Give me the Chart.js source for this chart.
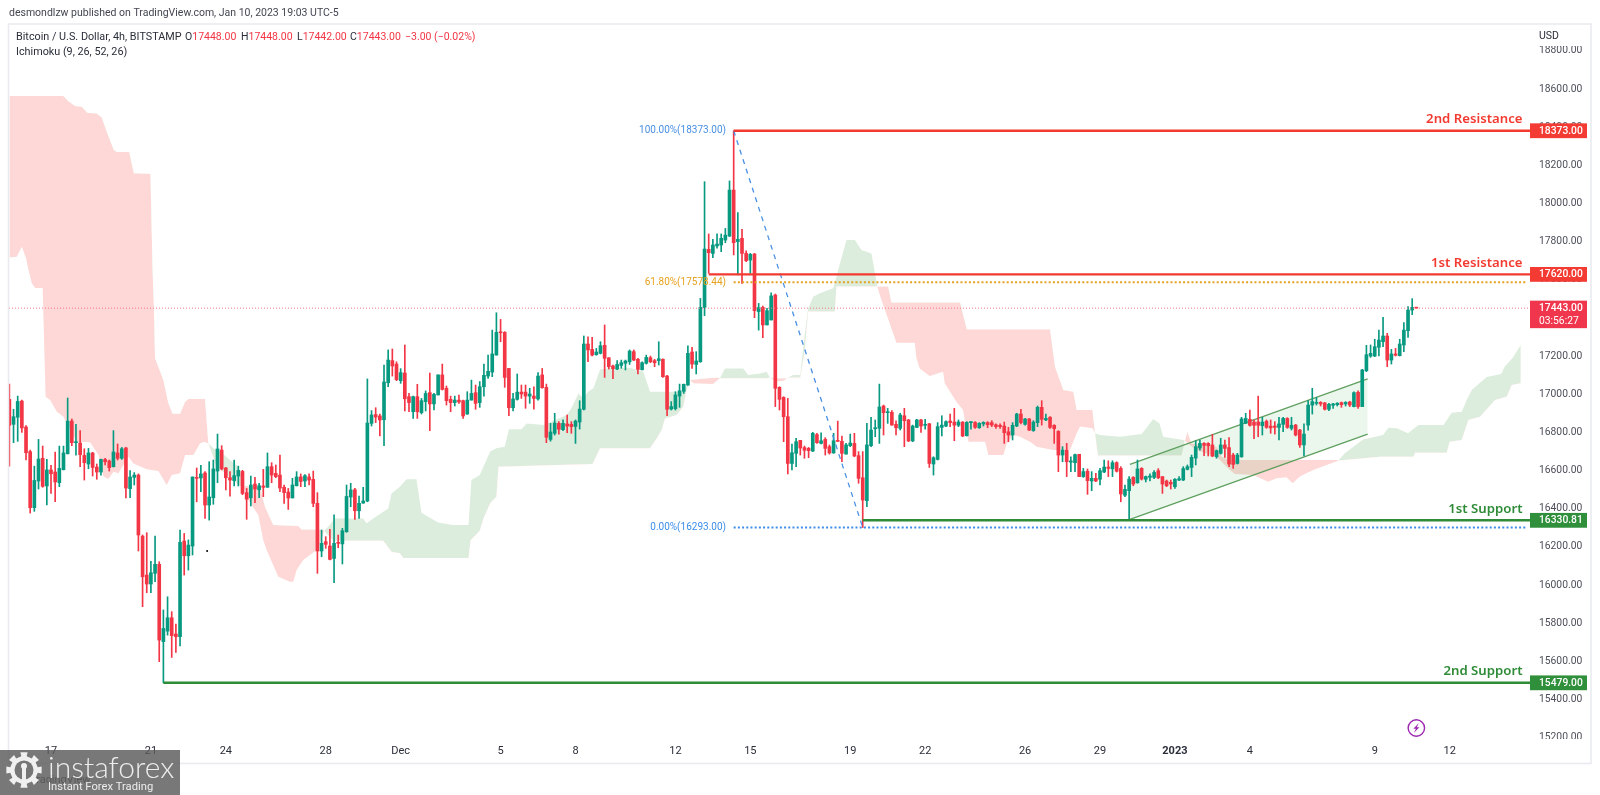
<!DOCTYPE html>
<html><head><meta charset="utf-8">
<style>html,body{margin:0;padding:0;background:#fff}canvas{display:block}</style>
<script src="https://cdn.jsdelivr.net/npm/chart.js@4/dist/chart.umd.min.js"></script>
</head><body><canvas id="c" width="1600" height="795"></canvas>
<script>
const opens=[16965,16834,16871,16956,16820,16691,16397,16537,16656,16511,
16595,16584,16528,16596,16680,16851,16738,16736,16671,16626,
16684,16610,16584,16650,16642,16612,16684,16656,16710,16497,
16556,16568,16248,16044,15997,16053,16100,15695,15750,15820,
15735,15721,16222,16145,16196,16556,16553,16579,16411,16449,
16589,16699,16605,16554,16539,16563,16587,16476,16449,16521,
16491,16511,16504,16612,16577,16568,16504,16479,16448,16512,
16558,16537,16558,16546,16420,16170,16219,16196,16131,16214,
16207,16271,16453,16491,16381,16421,16432,16839,16885,16878,
16858,17052,17168,17150,17063,17103,16979,16900,16979,16895,
16953,17000,16941,16988,17093,17023,16965,16948,16961,16958,
16888,16961,17000,16948,17031,17087,17108,17197,17318,17316,
17127,16921,16965,17003,17003,16982,16982,16967,17093,17028,
16755,16787,16839,16806,16836,16834,16823,16846,16913,17255,
17227,17199,17206,17248,17183,17140,17124,17143,17154,17162,
17215,17175,17120,17154,17183,17168,17168,17175,17087,16914,
16916,16982,17007,17040,17213,17148,17162,17447,17751,17730,
17769,17774,17800,17821,18062,17792,17809,17730,17695,17727,
17425,17447,17355,17381,17512,17028,16975,16874,16629,16682,
16750,16712,16708,16694,16780,16734,16755,16717,16684,16748,
16745,16678,16722,16734,16670,16554,16434,16722,16811,16813,
16930,16895,16897,16834,16813,16879,16857,16747,16818,16857,
16829,16837,16626,16650,16818,16825,16851,16846,16829,16846,
16774,16843,16844,16816,16836,16843,16843,16832,16829,16825,
16795,16778,16825,16888,16834,16862,16801,16843,16923,16857,
16871,16829,16797,16673,16698,16636,16633,16677,16560,16588,
16537,16551,16546,16584,16610,16601,16633,16603,16462,16486,
16556,16528,16603,16546,16556,16556,16591,16560,16537,16530,
16507,16542,16542,16598,16608,16657,16710,16734,16734,16726,
16664,16682,16726,16712,16673,16629,16664,16839,16860,16846,
16846,16827,16850,16825,16825,16818,16834,16865,16813,16830,
16804,16726,16830,16935,16944,16949,16946,16913,16934,16937,
16948,16941,16951,16927,17002,16927,17115,17192,17192,17238,
17267,17297,17171,17203,17194,17250,17325,17433,17448];
const highs=[17045,16913,16982,16961,16827,16699,16615,16755,16720,16650,
16619,16689,16720,16720,16972,16862,16834,16801,16706,16708,
16687,16626,16652,16656,16647,16801,16731,16713,16713,16591,
16581,16574,16254,16266,16116,16248,16114,15861,15930,15852,
15787,16280,16262,16228,16558,16605,16619,16586,16638,16647,
16783,16722,16608,16586,16647,16615,16593,16498,16563,16556,
16525,16598,16684,16633,16621,16673,16516,16498,16551,16586,
16574,16570,16574,16589,16476,16280,16245,16283,16359,16254,
16289,16516,16525,16498,16458,16504,17072,16906,16921,16888,
17145,17224,17229,17162,17126,17250,16996,16982,17044,16970,
17009,17103,16996,17093,17150,17035,16982,16982,16988,16961,
17005,17066,17040,17058,17150,17197,17328,17419,17384,17320,
17127,16996,17098,17040,17040,17023,17031,17105,17127,17045,
16839,16892,16848,16857,16883,16848,16857,16958,17297,17293,
17290,17232,17267,17355,17183,17145,17168,17171,17171,17224,
17224,17180,17162,17197,17192,17175,17267,17178,17091,16953,
17005,17045,17045,17245,17238,17215,17494,18106,17832,17804,
17832,17832,17861,18110,18373,17944,17856,17744,17730,17730,
17468,17454,17442,17524,17517,17031,16979,16970,16731,16760,
16750,16720,16713,16792,16787,16790,16764,16726,16787,16851,
16773,16734,16783,16787,16691,16691,16839,16871,16857,17045,
16935,16918,16906,16853,16892,16918,16860,16830,16860,16860,
16860,16839,16664,16843,16879,16853,16888,16918,16857,16848,
16848,16848,16848,16843,16848,16848,16853,16836,16836,16846,
16818,16843,16892,16913,16865,16865,16853,16930,16958,16888,
16874,16832,16801,16717,16734,16664,16678,16677,16603,16600,
16586,16577,16603,16647,16643,16643,16638,16612,16516,16560,
16560,16647,16607,16563,16574,16591,16602,16560,16542,16542,
16549,16560,16612,16621,16673,16748,16752,16738,16738,16781,
16699,16761,16752,16764,16682,16682,16871,16892,16909,16857,
16982,16871,16857,16857,16848,16871,16871,16869,16871,16834,
16808,16836,16958,17023,16975,16953,16949,16944,16944,16948,
16951,16953,16955,17005,17009,17122,17248,17250,17280,17328,
17395,17311,17227,17232,17280,17367,17451,17493,17448];
const lows=[16615,16738,16745,16792,16647,16369,16378,16495,16504,16411,
16472,16428,16507,16595,16678,16722,16673,16612,16542,16601,
16563,16546,16568,16621,16589,16610,16647,16650,16448,16449,
16516,16170,15878,15951,15951,16009,15590,15479,15729,15612,
15639,15672,16044,16070,16149,16428,16481,16341,16332,16415,
16528,16595,16490,16458,16511,16511,16465,16336,16406,16423,
16449,16455,16504,16528,16554,16481,16420,16388,16448,16511,
16507,16507,16516,16402,16053,16140,16184,16123,16004,16187,
16102,16268,16402,16336,16341,16420,16428,16825,16843,16773,
16722,17031,17087,17063,17049,16904,16900,16865,16865,16888,
16904,16801,16909,16988,17014,16935,16900,16930,16944,16865,
16886,16961,16913,16923,16982,17075,17084,17197,17267,17028,
16879,16904,16961,16970,16918,16944,16914,16961,17023,16738,
16746,16778,16783,16801,16790,16787,16734,16809,16909,17162,
17192,17196,17203,17080,17124,17073,17120,17128,17119,17148,
17168,17098,17119,17150,17157,17136,17145,17080,16879,16909,
16909,16923,16996,17038,17127,17098,17159,17404,17626,17708,
17757,17739,17786,17818,17722,17617,17573,17687,17626,17393,
17328,17288,17355,17381,16927,16909,16743,16574,16595,16612,
16673,16656,16659,16691,16734,16731,16673,16678,16682,16743,
16638,16677,16717,16664,16525,16293,16402,16717,16769,16734,
16778,16839,16830,16778,16804,16717,16743,16743,16816,16792,
16808,16608,16568,16647,16773,16822,16822,16748,16822,16769,
16773,16808,16813,16813,16825,16816,16822,16813,16813,16734,
16743,16752,16822,16836,16830,16801,16797,16822,16830,16853,
16813,16734,16586,16638,16560,16586,16586,16560,16556,16467,
16486,16533,16516,16581,16560,16560,16584,16428,16455,16331,
16512,16525,16542,16532,16537,16549,16549,16472,16507,16495,
16498,16539,16539,16595,16560,16621,16699,16670,16668,16664,
16656,16678,16661,16612,16603,16626,16661,16839,16825,16759,
16769,16778,16813,16787,16783,16752,16795,16813,16804,16773,
16713,16668,16804,16888,16935,16930,16909,16906,16918,16930,
16923,16930,16927,16925,16918,16927,17110,17185,17189,17192,
17241,17136,17150,17192,17192,17215,17290,17409,17442];
const closes=[16829,16874,16954,16815,16685,16397,16540,16652,16509,16595,
16575,16532,16603,16684,16851,16738,16741,16675,16633,16684,
16608,16584,16650,16638,16607,16689,16656,16706,16500,16558,
16568,16254,16035,15997,16056,16100,15703,15764,15820,15726,
15721,16215,16145,16201,16558,16551,16574,16411,16453,16600,
16705,16600,16554,16542,16565,16593,16472,16442,16516,16495,
16512,16504,16612,16568,16560,16500,16476,16448,16516,16558,
16535,16565,16542,16420,16170,16210,16205,16126,16210,16210,
16276,16456,16490,16381,16420,16432,16841,16883,16872,16857,
17056,17171,17140,17068,17105,16968,16948,16979,16900,16958,
16996,16941,16991,17093,17017,16958,16948,16961,16951,16878,
16961,16996,16944,17031,17091,17112,17203,17316,17314,17080,
16921,16967,17003,16993,16982,16993,16970,17087,17026,16766,
16794,16841,16808,16839,16825,16822,16851,16914,17255,17224,
17197,17213,17246,17180,17136,17126,17148,17157,17166,17218,
17171,17122,17157,17185,17162,17157,17178,17084,16913,16927,
16988,17010,17044,17206,17150,17166,17447,17753,17734,17774,
17779,17809,17826,18062,17786,17804,17730,17692,17725,17430,
17446,17355,17430,17507,17023,16965,16874,16629,16685,16743,
16710,16698,16696,16787,16738,16748,16708,16684,16748,16745,
16682,16726,16736,16668,16551,16437,16726,16804,16816,16925,
16895,16900,16830,16816,16883,16853,16747,16825,16857,16825,
16834,16629,16659,16822,16830,16848,16843,16830,16846,16773,
16844,16846,16818,16839,16844,16832,16830,16822,16822,16790,
16778,16829,16888,16843,16862,16804,16846,16923,16860,16865,
16818,16811,16673,16699,16638,16642,16675,16560,16586,16539,
16551,16537,16591,16610,16603,16633,16588,16469,16493,16547,
16521,16600,16547,16560,16563,16582,16554,16521,16512,16521,
16546,16549,16602,16612,16661,16717,16734,16724,16722,16668,
16696,16726,16708,16626,16624,16673,16862,16865,16829,16829,
16829,16846,16818,16815,16818,16836,16865,16818,16829,16778,
16726,16783,16935,16953,16949,16941,16913,16939,16941,16944,
16937,16949,16935,17000,16927,17119,17199,17206,17241,17276,
17297,17171,17203,17196,17255,17328,17433,17447,17443];

// Ichimoku spans: bar number / price pairs
const spanABars=[0,1.75,3,4,4.6,5.4,6.2,8,8.7,9.8,11.4,13,14.6,16.2,19.4,21.4,22.6,23.8,25,26.2,28.6,29.8,33,35.8,37.8,39,41,42.2,44.2,45.8,46.8,47.8,
49,51,53,55,56.4,57.4,59.8,61,61.8,64.6,67.4,68.2,69,70.6,73.8,74.6,75.6,
76.6,78.2,85,85.8,87.4,91,91.8,93.8,95.4,97.8,99,100.6,103,106.6,110.3,111,113,115.5,117,119,120,123,124.3,128.3,133.9,135,136.7,137.9,139,140.3,141.9,143.5,149,152.3,153.9,161.9,163.5,
164.3,169,170.7,171.9,176.3,177.5,180.3,181.9,182.7,184.3,186,187.1,188.3,190,191,191.9,193.1,194.7,197.9,198.7,199.1,201.1,203.1,204.7,207.1,208.5,
209.1,213.1,217.5,217.9,218.7,221.1,224.3,224.7,227.5,229.1,230.4,234.4,235.2,238.8,239.6,241.2,242.8,245.2,246.8,250.8,254.8,256.4,257.2,260.2,260.8,
262,266.8,272,274.8,276.3,277.2,282,282.4,283.6,285.2,290,293.2,294.4,298.8,302.4,304.4,306.8,308.3,310,313.2,319.2,
320.8,322.4,325.2,330,331.3,333.3,336,338.5,344.5,346.5,348.9,350.1,351.3,354.9,358.4,359.2,361.1,363.1];
const spanA=[17708,17713,17765,17704,17643,17573,17549,17549,16979,16961,16900,16874,16804,16743,16740,16673,16560,16547,16586,16577,16664,16629,16598,16589,16516,16568,16577,16673,16673,16734,16743,16734,
16708,16685,16647,16612,16510,16437,16359,16227,16175,16035,16009,16009,16070,16123,16175,16210,16276,
16297,16341,16341,16315,16341,16393,16472,16507,16546,16546,16371,16350,16320,16306,16306,16542,16568,16691,16708,16717,16808,16808,16839,16830,16883,16918,16996,16970,17005,17023,17122,17127,17131,17110,17005,17005,17066,
17049,17045,17075,17127,17127,17093,17101,17110,17080,17058,17063,17080,17093,17093,17293,17442,17503,17521,17547,17608,17643,17800,17800,17748,17730,17556,
17512,17262,17262,17180,17127,17087,17110,17049,16953,16909,16743,16743,16673,16673,16734,16778,16769,16743,16717,16699,16699,16787,16822,16813,16787,
16778,16769,16783,16862,16839,16769,16752,16748,16726,16699,16664,16594,16574,16568,16533,16551,16556,16525,16560,16594,16643,
16682,16708,16755,16778,16816,16813,16787,16830,16830,16895,16900,16961,17014,17082,17098,17136,17182,17250];
const spanBBars=[0,12.96,14.2,15.8,17.4,18.7,21,22.2,23.4,25.1,25.8,28.8,29.9,33.9,34.4,34.7,35,37,38.2,39.2,41,42.2,43,47,47.8,
49.8,55.4,56.4,56.6,60.2,61.4,63.4,69.4,70.2,74.6,75.6,
77.8,89.8,90.6,91.8,93.8,94.6,110.3,110.8,113,113.9,115.5,117,117.5,140.1,141.9,153.9,155.5,156.7,157.5,160.3,161.9,162.7,163.5,
167.5,170.3,170.7,181.9,182.7,183.9,186.7,187.1,190,191,191.9,198.3,198.7,208.5,
211.1,211.9,228.4,230,250,251.2,253.2,255.6,256.4,260.2,260.8,261.5,281.6,282.4,
283,284,290,291.2,293.2,319.2,319.6,329.3,337.3,337.7,345.3,346,348.9,350.5,353.3,356.9,359.7,360.9,363.1];
const spanB=[18555,18555,18527,18503,18499,18468,18464,18443,18368,18272,18262,18262,18150,18148,17643,17468,17180,17066,16944,16890,16890,16953,16967,16967,16734,
16612,16511,16510,16511,16507,16402,16306,16301,16283,16283,16276,
16224,16224,16201,16166,16158,16133,16133,16227,16276,16341,16420,16455,16612,16626,16708,16708,16760,16804,16865,16883,16926,17014,17066,
17075,17080,17075,17075,17080,17075,17075,17078,17080,17206,17425,17425,17556,17556,
17556,17473,17473,17332,17332,17136,17014,17005,16909,16909,16787,16670,16670,16748,
16795,16734,16717,16664,16647,16647,16645,16664,16664,16685,16685,16743,16752,16857,16874,16962,16979,17040,17050];

// date axis: bar numbers and their labels (six 4h bars per day)
const dateTickBars=[10,34,52,76,94,118,136,160,178,202,220,244,262,280,298,328,346];
const dateTickLabels=['17','21','24','28','Dec','5','8','12','15','19','22','26','29','2023','4','9','12'];

// price levels: 2nd/1st resistance, 1st/2nd support
const levelNames=['2nd Resistance','1st Resistance','1st Support','2nd Support'];
const levelPrices=[18373,17620,16330.81,15479];
const levelStartBars=[174,168,205,37];
const levelTags=['18373.00','17620.00','16330.81','15479.00'];
const levelColors=['#f23a30','#f23a30','#2e8b37','#2e8b37'];
const lastPrice=17443, lastTag='17443.00', lastCountdown='03:56:27';

// fibonacci retracement
const fibHighBar=174, fibLowBar=205, fibEndBar=364.7;
const fibPrices=[18373,17578.44,16293];
const fibLabels=['100.00%(18373.00)','61.80%(17578.44)','0.00%(16293.00)'];
const fibColors=['#4a90e2','#e6a21f','#3d8ee8'];

// rising channel
const channelBars=[269.2,326.3];
const channelUpper=[16624,17072];
const channelLower=[16336,16783];

const strayDotBar=47.5, strayDotPrice=16170;
const tickFont='Roboto,sans-serif';
const UP='#089981', DOWN='#f23645';
const idx=opens.map((_,i)=>i);
const colorOf=i=>closes[i]>=opens[i]?UP:DOWN;
const XMIN=-0.09, XMAX=365.3;

function pts(xs,ys){return xs.map((x,k)=>({x,y:ys[k]}));}
function line(xs,ys,color,w,dash,order,extra){
  return Object.assign({type:'line',data:pts(xs,ys),borderColor:color,borderWidth:w,borderDash:dash||[],pointRadius:0,tension:0,fill:false,order:order},extra||{});
}
const datasets=[
  line(spanABars,spanA,'rgba(0,0,0,0)',0,null,20,{fill:{target:1,above:'rgb(220,237,221)',below:'rgb(253,216,214)'}}),
  line(spanBBars,spanB,'rgba(0,0,0,0)',0,null,21),
  line(channelBars,channelUpper,'#5f9f5f',1.2,null,15,{fill:{target:3,above:'rgba(76,175,80,0.11)',below:'rgba(76,175,80,0.11)'}}),
  line(channelBars,channelLower,'#5f9f5f',1.2,null,16),
  {type:'bar',data:idx.map(i=>({x:i,y:[lows[i],highs[i]]})),backgroundColor:idx.map(colorOf),barThickness:1,grouped:false,borderWidth:0,order:6},
  {type:'bar',data:idx.map(i=>({x:i,y:[opens[i],closes[i]]})),backgroundColor:idx.map(colorOf),barThickness:3,grouped:false,borderWidth:0,minBarLength:1,order:5},
  line([XMIN,XMAX],[lastPrice,lastPrice],'#f7748a',1,[1,2],4),
  line([fibHighBar,fibEndBar],[fibPrices[1],fibPrices[1]],fibColors[1],2,[2,2.2],3),
  line([fibHighBar,fibEndBar],[fibPrices[2],fibPrices[2]],fibColors[2],2,[2,2.2],3),
  line([fibHighBar,fibLowBar],[fibPrices[0],fibPrices[2]],fibColors[0],1.3,[5,5],3),
  line([strayDotBar],[strayDotPrice],'#000',0,null,3,{pointRadius:1,pointBackgroundColor:'#000',showLine:false})
];
levelPrices.forEach((p,k)=>datasets.push(line([levelStartBars[k],XMAX],[p,p],levelColors[k],2.4,null,2)));

const overlay={id:'overlay',
 afterDraw(chart){
  const c=chart.ctx,x=chart.scales.x,y=chart.scales.y;
  c.save();
  c.textBaseline='middle';
  // frame
  c.strokeStyle='#e9ebf1';c.lineWidth=1.6;
  c.strokeRect(8.5,24,1582.5,739.5);
  // clipped tick labels at the ends of the price axis
  c.fillStyle='#fff';c.fillRect(1531,41,58,5);c.fillRect(1531,739,58,7);
  // header + legend
  c.fillStyle='#434651';c.textAlign='left';
  c.font='10.5px '+tickFont;
  c.fillText('desmondlzw published on TradingView.com, Jan 10, 2023 19:03 UTC-5',9,13);
  c.font='10.8px '+tickFont;
  c.fillStyle='#2a2e39';
  c.fillText('Bitcoin / U.S. Dollar, 4h, BITSTAMP',16,37);
  c.fillText('Ichimoku (9, 26, 52, 26)',16,52);
  c.font='10.5px '+tickFont;
  const legend=[['O','17448.00',185],['H','17448.00',241],['L','17442.00',297],['C','17443.00',350]];
  legend.forEach(l=>{c.fillStyle='#2a2e39';c.fillText(l[0],l[2],37);const w=c.measureText(l[0]).width;c.fillStyle=DOWN;c.fillText(l[1],l[2]+w,37);});
  c.fillStyle=DOWN;c.fillText('\u22123.00 (\u22120.02%)',405,37);
  c.fillStyle='#2a2e39';c.font='10.5px '+tickFont;c.fillText('USD',1539,36);
  // fib labels
  c.textAlign='right';c.font='10px '+tickFont;
  fibPrices.forEach((p,k)=>{c.fillStyle=fibColors[k];c.fillText(fibLabels[k],726,y.getPixelForValue(p));});
  // level captions and tags
  levelPrices.forEach((p,k)=>{
    const py=y.getPixelForValue(p);
    c.fillStyle=levelColors[k];c.textAlign='right';c.font='600 13.2px "Noto Sans",sans-serif';
    c.fillText(levelNames[k],1522.5,py-11.5);
    c.fillStyle=levelColors[k]=='#f23a30'?'#f33b33':'#2f8f3a';
    c.fillRect(1530,py-7.4,57,14.8);
    c.fillStyle='#fff';c.textAlign='left';c.font='500 10.3px '+tickFont;
    c.fillText(levelTags[k],1539,py+0.5);
  });
  // last price tag
  const ly=y.getPixelForValue(lastPrice);
  c.fillStyle='#f0364d';c.fillRect(1530,ly-7.5,57,27.5);
  c.fillStyle='#fff';c.textAlign='left';c.font='500 10.3px '+tickFont;c.fillText(lastTag,1539,ly+0.5);
  c.font='10.3px '+tickFont;c.fillText(lastCountdown,1539,ly+13);
  // lightning badge under the last bar
  const bx=x.getPixelForValue(338),by=728;
  c.strokeStyle='#9c27b0';c.lineWidth=1.4;c.beginPath();c.arc(bx,by,8.2,0,Math.PI*2);c.stroke();
  c.fillStyle='#9c27b0';c.beginPath();c.moveTo(bx+2.5,by-5);c.lineTo(bx-3,by+0.8);c.lineTo(bx-0.4,by+0.8);c.lineTo(bx-2.5,by+5);c.lineTo(bx+3,by-0.8);c.lineTo(bx+0.4,by-0.8);c.closePath();c.fill();
  // watermark
  c.fillStyle='#555';c.font='11px '+tickFont;c.textAlign='left';c.fillText('TradingView',30,780);
  c.fillStyle='rgba(90,90,90,0.82)';c.fillRect(0,750,180,45);
  const gx=24,gy=770;
  c.fillStyle='#f0f0f0';c.beginPath();
  for(let a=0;a<16;a++){const r=a%2?14:18,t=a*Math.PI/8;c.lineTo(gx+r*Math.cos(t-0.2),gy+r*Math.sin(t-0.2));c.lineTo(gx+r*Math.cos(t+0.2),gy+r*Math.sin(t+0.2));}
  c.closePath();c.fill();
  c.fillStyle='#767676';c.beginPath();c.arc(gx,gy,9.5,0,Math.PI*2);c.fill();
  c.fillStyle='#f0f0f0';c.beginPath();c.arc(gx,gy-4,3,0,Math.PI*2);c.fill();c.fillRect(gx-2,gy-2,4,13);
  c.fillStyle='#ededed';c.font='300 30px Lato,'+tickFont;c.textBaseline='alphabetic';c.fillText('instaforex',48,778);
  c.font='11.2px '+tickFont;c.fillText('Instant Forex Trading',48,790);
  c.restore();
 }};

new Chart(document.getElementById('c'),{
 type:'line',data:{datasets},plugins:[overlay],
 options:{responsive:false,animation:false,devicePixelRatio:1,parsing:{xAxisKey:'x',yAxisKey:'y'},
  layout:{padding:{left:9,right:0,top:24,bottom:0}},
  plugins:{legend:{display:false},tooltip:{enabled:false},title:{display:false},filler:{propagate:false}},
  scales:{
   x:{type:'linear',position:'bottom',min:XMIN,max:XMAX,offset:false,grid:{display:false,offset:false,drawTicks:false},border:{display:false},
      afterFit(s){s.height=54;},
      afterBuildTicks(s){s.ticks=dateTickBars.map(v=>({value:v}));},
      ticks:{autoSkip:false,maxRotation:0,padding:4,color:'#2a2e39',
        font:c=>({family:'Roboto,sans-serif',size:11,weight:(c.tick&&c.tick.value===280)?'700':'400'}),
        callback:v=>dateTickLabels[dateTickBars.indexOf(v)]}},
   y:{type:'linear',position:'right',min:15174,max:18932.6,beginAtZero:false,grid:{display:false,drawTicks:false},border:{display:false},
      afterFit(s){s.width=70;},
      ticks:{stepSize:200,includeBounds:false,autoSkip:false,padding:9,labelOffset:1.5,color:'#4c4f5a',font:{family:'Roboto,sans-serif',size:10.3},
        callback:v=>v.toFixed(2)}}
  }}
});
</script></body></html>
